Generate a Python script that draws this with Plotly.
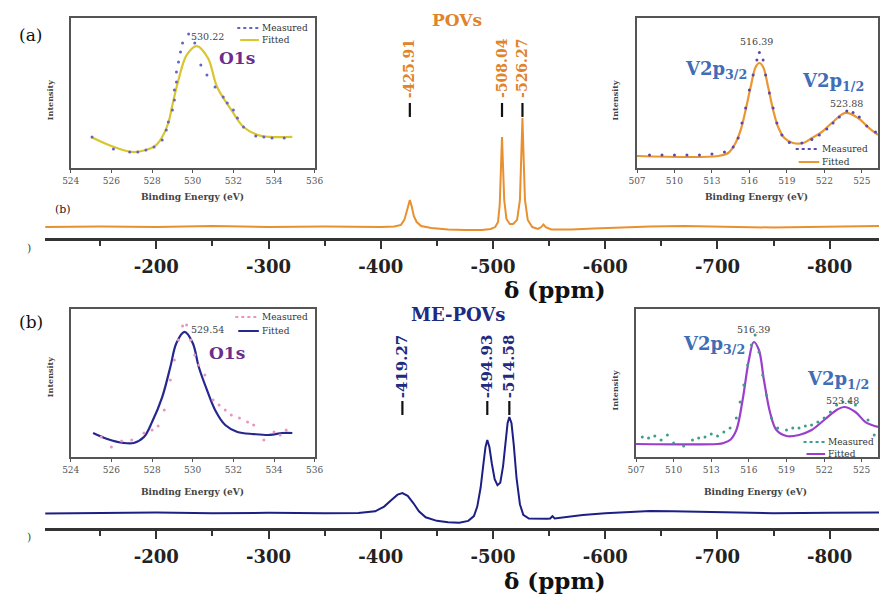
import plotly.graph_objects as go

W, H = 888, 597

# ---------------- data ----------------
ppm_ticks = [-200, -300, -400, -500, -600, -700, -800]
ppm_minor = [-150, -250, -350, -450, -550, -650, -750]

pov_peaks = [-425.91, -508.04, -526.27]
mepov_peaks = [-419.27, -494.93, -514.58]

pov_ppm = [-100, -150, -200, -250, -300, -350, -400, -412, -418, -421, -423, -424.5, -425.9,
           -427.5, -429.5, -432, -436, -445, -460, -475, -490, -498, -502, -504.5, -506,
           -507.2, -508.04, -508.9, -510, -512, -515, -518, -521.5, -524, -525.4, -526.27,
           -527.1, -528.5, -531, -535, -540, -543, -545, -547, -552, -570, -590, -610,
           -640, -670, -700, -750, -780, -800, -844]
pov_int = [4.6, 4.8, 4.6, 5.0, 4.6, 4.8, 4.6, 4.8, 5.5, 7.6, 10.9, 14.3, 16.0,
           13.4, 9.2, 6.7, 5.0, 4.2, 3.6, 3.4, 3.4, 3.8, 4.6, 6.7, 13.9,
           30.7, 42.4, 30.7, 16.0, 8.0, 5.9, 5.9, 7.6, 16.0, 37.0, 50.4,
           37.0, 16.0, 7.6, 4.6, 3.8, 4.6, 5.7, 4.6, 3.6, 3.6, 4.0, 4.4,
           4.8, 5.0, 4.8, 4.4, 4.6, 4.8, 5.0]

mepov_ppm = [-100, -150, -200, -250, -300, -350, -380, -395, -403, -410, -415, -419.27,
             -424, -429, -434, -440, -450, -460, -470, -478, -483, -486, -489, -491.5,
             -493.3, -494.93, -496.8, -499, -501.5, -504, -506.5, -509, -511, -513,
             -514.58, -516.5, -518.5, -521, -524, -527, -532, -540, -548, -551, -553,
             -555, -565, -580, -600, -620, -640, -660, -700, -750, -800, -844]
mepov_int = [6.1, 6.3, 6.5, 6.2, 6.4, 6.2, 6.3, 7.0, 9.0, 12.0, 14.0, 14.7,
             13.5, 10.5, 7.0, 4.5, 3.0, 2.4, 2.2, 3.0, 5.0, 9.0, 17.0, 27.0,
             34.0, 37.0, 34.0, 27.0, 20.5, 18.0, 19.0, 26.0, 36.0, 44.0,
             46.6, 44.0, 35.0, 21.0, 10.0, 5.5, 4.0, 3.8, 3.9, 4.0, 5.0,
             4.0, 4.6, 5.5, 6.2, 6.8, 7.1, 7.0, 6.6, 6.2, 6.4, 6.5]

# O1s inset, panel (a)
o1s_ticks = [524, 526, 528, 530, 532, 534, 536]
o1s_a_fit_ev = [525.0, 526.0, 527.0, 527.7, 528.2, 528.5, 528.8, 529.0, 529.3, 529.7, 530.2,
                530.75, 531.2, 531.9, 532.5, 533.2, 533.8, 534.9]
o1s_a_fit = [20.7, 14.7, 10.7, 12.0, 15.3, 20.7, 30.0, 42.0, 58.7, 75.3, 81.3,
             73.3, 54.0, 38.7, 27.3, 22.0, 20.7, 20.7]
o1s_a_meas_ev = [525.05, 526.1, 526.9, 527.3, 527.7, 528.1, 528.5, 528.7, 528.8, 529.0, 529.1,
                 529.1, 529.2, 529.2, 529.3, 529.4, 529.5, 529.8, 530.1, 530.4, 530.7, 531.1,
                 531.5, 531.7, 532.0, 532.2, 532.5, 533.1, 533.5, 533.9, 534.5]
o1s_a_meas = [20.7, 12.7, 10.7, 10.7, 12.0, 14.0, 18.7, 25.3, 30.7, 38.7, 45.3,
              52.0, 57.3, 64.0, 70.7, 77.3, 83.3, 89.3, 83.3, 68.7, 62.0, 54.0,
              47.3, 43.3, 38.7, 33.3, 27.3, 21.3, 20.7, 20.0, 20.0]
o1s_a_peak = 530.22

# V2p inset, panel (a)
v2p_ticks = [507, 510, 513, 516, 519, 522, 525]
v2p_a_fit_ev = [507.0, 513.5, 514.3, 514.8, 515.3, 515.7, 516.1, 516.5, 516.8, 517.1, 517.5,
                517.9, 518.3, 518.8, 519.5, 520.3, 521.0, 521.8, 522.6, 523.7, 524.7, 525.5, 526.3]
v2p_a_fit = [8.0, 8.0, 10.0, 15.3, 25.3, 38.7, 54.0, 67.3, 70.0, 67.3, 54.0,
             38.7, 27.3, 20.0, 16.7, 16.7, 20.0, 24.0, 30.0, 36.7, 33.3, 27.3, 22.0]
v2p_a_meas_ev = [508, 509, 510, 511, 512, 513, 514, 514.7, 515.1, 515.4, 515.7, 516.0, 516.3,
                 516.6, 516.8, 517.1, 517.3, 517.6, 517.9, 518.2, 518.6, 519.2, 520.2, 521.0,
                 521.6, 522.2, 522.7, 523.2, 523.8, 524.3, 524.8, 525.4, 526.1]
v2p_a_meas = [8.7, 8.7, 8.7, 8.7, 8.7, 9.3, 10.7, 14.0, 20.0, 30.0, 40.0, 52.0, 62.0,
              72.0, 77.0, 72.0, 62.0, 50.0, 40.0, 30.0, 22.0, 17.0, 16.7, 19.0,
              22.0, 26.0, 30.0, 34.0, 38.0, 37.0, 34.0, 28.0, 24.0]
v2p_a_peaks = [516.39, 523.88]

# O1s inset, panel (b)
o1s_b_fit_ev = [525.1, 525.8, 526.6, 527.1, 527.6, 528.0, 528.5, 528.9, 529.2, 529.6, 530.0,
                530.3, 530.7, 531.1, 531.6, 532.2, 533.0, 533.8, 534.4, 534.9]
o1s_b_fit = [16.2, 12.2, 9.5, 9.5, 13.5, 23.6, 40.5, 60.8, 77.0, 84.5, 77.0,
             60.8, 45.3, 31.8, 21.6, 16.9, 15.5, 14.9, 16.2, 16.2]
o1s_b_meas_ev = [525.5, 526.0, 526.5, 527.0, 527.6, 528.0, 528.3, 528.6, 528.9, 529.1, 529.3,
                 529.5, 529.7, 529.9, 530.1, 530.3, 530.6, 531.0, 531.3, 531.6, 531.9, 532.3,
                 532.7, 533.0, 533.5, 534.0, 534.3, 534.6]
o1s_b_meas = [13.5, 6.8, 10.8, 11.5, 16.2, 18.2, 20.9, 31.8, 52.0, 65.5, 79.0,
              88.5, 89.2, 79.0, 68.9, 62.2, 55.4, 38.5, 35.1, 31.8, 28.4, 26.4,
              23.6, 21.6, 11.5, 16.9, 14.9, 18.2]
o1s_b_peak = 529.54

# V2p inset, panel (b)
v2p_b_fit_ev = [507.0, 513.5, 514.0, 514.5, 515.0, 515.5, 516.0, 516.39, 516.8, 517.2, 517.7,
                518.2, 519.0, 520.0, 521.0, 522.0, 523.0, 523.6, 524.5, 525.3, 526.3]
v2p_b_fit = [8.8, 8.8, 9.5, 11.5, 18.2, 38.5, 65.5, 77.7, 72.3, 52.0, 29.7,
             18.2, 14.2, 14.9, 18.2, 25.0, 31.8, 33.8, 30.4, 23.6, 20.3]
v2p_b_meas_ev = [507.5, 508, 508.5, 509, 509.5, 510, 510.8, 511.5, 512, 512.5, 513, 513.5,
                 514, 514.5, 515, 515.3, 515.6, 515.9, 516.2, 516.5, 516.8, 517.1, 517.4,
                 517.8, 518.3, 519, 519.5, 520, 520.5, 521, 521.5, 522, 522.5, 523, 523.5,
                 524, 524.5, 525.5, 526]
v2p_b_meas = [13.5, 12.8, 14.2, 11.5, 14.9, 9.5, 7.4, 11.5, 12.8, 13.5, 15.5, 14.2,
              16.9, 19.6, 26.4, 37.2, 48.6, 62.2, 75.7, 82.4, 70.9, 55.4, 41.9,
              26.4, 19.6, 18.2, 19.6, 19.6, 20.9, 21.6, 23.6, 26.4, 30.4, 35.1, 37.2,
              37.2, 35.1, 25.0, 14.9]
v2p_b_peaks = [516.39, 523.48]

# ---------------- styling ----------------
ORANGE = "#E8902F"
ORANGE_T = "#E0832A"
NAVY = "#1E1F85"
NAVY_T = "#202A80"
SERIF = "DejaVu Serif"


def X(p):
    return p / W


def Y(p):
    return 1 - p / H


fig = go.Figure()

# main spectra
fig.add_trace(go.Scatter(x=pov_ppm, y=pov_int, mode="lines",
                         line=dict(color=ORANGE, width=2), xaxis="x", yaxis="y"))
fig.add_trace(go.Scatter(x=mepov_ppm, y=mepov_int, mode="lines",
                         line=dict(color=NAVY, width=2), xaxis="x2", yaxis="y2"))

# black peak markers
fig.add_trace(go.Scatter(x=pov_peaks, y=[53.8] * len(pov_peaks), mode="markers",
                         marker=dict(symbol="line-ns", size=10, line=dict(width=2.2, color="#111")),
                         xaxis="x", yaxis="y"))
fig.add_trace(go.Scatter(x=mepov_peaks, y=[50.4] * len(mepov_peaks), mode="markers",
                         marker=dict(symbol="line-ns", size=10, line=dict(width=2.2, color="#111")),
                         xaxis="x2", yaxis="y2"))

# insets
insets = [
    ("x3", "y3", o1s_a_meas_ev, o1s_a_meas, "#6464C8", o1s_a_fit_ev, o1s_a_fit, "#D9C62C"),
    ("x4", "y4", v2p_a_meas_ev, v2p_a_meas, "#5A48B0", v2p_a_fit_ev, v2p_a_fit, "#EA9631"),
    ("x5", "y5", o1s_b_meas_ev, o1s_b_meas, "#E996BE", o1s_b_fit_ev, o1s_b_fit, "#26288F"),
    ("x6", "y6", v2p_b_meas_ev, v2p_b_meas, "#3F9C86", v2p_b_fit_ev, v2p_b_fit, "#9A3FCB"),
]
for xa, ya, mx, my, mc, fx, fy, fc in insets:
    fig.add_trace(go.Scatter(x=fx, y=fy, mode="lines", line=dict(color=fc, width=2.2, shape="spline"),
                             xaxis=xa, yaxis=ya))
    fig.add_trace(go.Scatter(x=mx, y=my, mode="markers", marker=dict(color=mc, size=3),
                             xaxis=xa, yaxis=ya))

main_x = dict(range=[-101, -844], showline=True, linecolor="#333", linewidth=2.5,
              ticks="outside", ticklen=8, tickwidth=2, tickcolor="#333",
              tickmode="array", tickvals=ppm_ticks, ticktext=[str(t) for t in ppm_ticks],
              tickfont=dict(family=SERIF, size=18, color="#222", weight="bold"),
              minor=dict(tickmode="array", tickvals=ppm_minor, ticks="outside", ticklen=5,
                         tickwidth=2, tickcolor="#333"),
              showgrid=False, zeroline=False, domain=[X(37), 1], ticklabelstandoff=3)
main_y = dict(range=[0, 100], visible=False, showgrid=False, zeroline=False)


def inset_x(rng, ticks, dom, anchor):
    return dict(range=rng, domain=dom, anchor=anchor, showline=True, mirror=True,
                linecolor="#555", linewidth=1.5, ticks="outside", ticklen=3, tickwidth=1,
                tickcolor="#555", tickmode="array", tickvals=ticks,
                tickfont=dict(family=SERIF, size=9, color="#555"),
                showgrid=False, zeroline=False)


def inset_y(dom, anchor):
    return dict(range=[0, 100], domain=dom, anchor=anchor, showline=True, mirror=True,
                linecolor="#555", linewidth=1.5, showticklabels=False, ticks="",
                showgrid=False, zeroline=False)


fig.update_layout(
    width=W, height=H, margin=dict(l=0, r=0, t=0, b=0),
    paper_bgcolor="white", plot_bgcolor="rgba(0,0,0,0)", showlegend=False,
    xaxis=dict(main_x, anchor="y"),
    yaxis=dict(main_y, domain=[Y(238), 1], anchor="x"),
    xaxis2=dict(main_x, anchor="y2"),
    yaxis2=dict(main_y, domain=[Y(528), Y(290)], anchor="x2"),
    xaxis3=inset_x([524, 536], o1s_ticks, [X(63), X(312)], "y3"),
    yaxis3=inset_y([Y(168), Y(18)], "x3"),
    xaxis4=inset_x([507, 526.3], v2p_ticks, [X(641), X(887)], "y4"),
    yaxis4=inset_y([Y(168), Y(18)], "x4"),
    xaxis5=inset_x([524, 536], o1s_ticks, [X(63), X(312)], "y5"),
    yaxis5=inset_y([Y(457), Y(309)], "x5"),
    xaxis6=inset_x([507, 526.3], v2p_ticks, [X(640), X(887)], "y6"),
    yaxis6=inset_y([Y(457), Y(309)], "x6"),
)

ann = []


def text(x, y, s, size, color="#222", bold=False, angle=0, xanchor="center", family=SERIF):
    ann.append(dict(x=X(x), y=Y(y), xref="paper", yref="paper", text=s, showarrow=False,
                    textangle=angle, xanchor=xanchor, yanchor="middle",
                    font=dict(family=family, size=size, color=color,
                              weight="bold" if bold else "normal")))


# panel letters
text(22, 35, "(a)", 17, "#111")
text(22, 322, "(b)", 17, "#111")
text(55, 210, "(b)", 11, "#222")
text(20, 248, ")", 11, "#444")
text(20, 537, ")", 11, "#444")

# titles
text(457, 20, "POVs", 17, ORANGE_T, True)
text(458, 314, "ME-POVs", 18, NAVY_T, True)
text(557, 289, "δ (ppm)", 23, "#111", True)
text(557, 580, "δ (ppm)", 23, "#111", True)

# peak labels
for p in pov_peaks:
    ann.append(dict(x=p, y=58, xref="x", yref="y", text=f"{p:.2f}", showarrow=False,
                    textangle=-90, xanchor="center", yanchor="bottom",
                    font=dict(family=SERIF, size=14, color=ORANGE_T, weight="bold")))
for p in mepov_peaks:
    ann.append(dict(x=p, y=53.8, xref="x2", yref="y2", text=f"{p:.2f}", showarrow=False,
                    textangle=-90, xanchor="center", yanchor="bottom",
                    font=dict(family=SERIF, size=15, color=NAVY_T, weight="bold")))

# inset titles
for (bx, by, ix, iy) in [(187, 197, 42, 100), (763, 197, 619, 100),
                         (187, 492, 42, 377), (762, 492, 619, 390)]:
    text(bx, by, "Binding Energy (eV)", 9, "#444", True)
    text(ix, iy, "Intensity", 8, "#444", True, angle=-90)

# inset peak values
text(203, 37, f"{o1s_a_peak:.2f}", 9.5, "#444")
text(763, 42, f"{v2p_a_peaks[0]:.2f}", 9.5, "#444")
text(855, 104, f"{v2p_a_peaks[1]:.2f}", 9.5, "#444")
text(203, 330, f"{o1s_b_peak:.2f}", 9.5, "#444")
text(760, 329, f"{v2p_b_peaks[0]:.2f}", 9.5, "#444")
text(851, 400, f"{v2p_b_peaks[1]:.2f}", 9.5, "#444")

# element labels
PURPLE = "#6B2E8C"
VBLUE = "#3F6DB6"
text(233, 58, "O1s", 17, PURPLE, True)
text(222, 353, "O1s", 17, PURPLE, True)
text(722, 70, "V2p<sub>3/2</sub>", 18, VBLUE, True)
text(841, 82, "V2p<sub>1/2</sub>", 18, VBLUE, True)
text(720, 345, "V2p<sub>3/2</sub>", 18, VBLUE, True)
text(846, 380, "V2p<sub>1/2</sub>", 18, VBLUE, True)

# inset legends
shapes = []
legends = [
    (233, 255, 28, 40, "#6464C8", "#D9C62C"),
    (803, 827, 149, 162, "#5A48B0", "#EA9631"),
    (231, 255, 317, 331, "#E996BE", "#26288F"),
    (811, 833, 442, 454, "#3F9C86", "#9A3FCB"),
]
for x0, x1, ym, yf, mc, fc in legends:
    shapes.append(dict(type="line", xref="paper", yref="paper", x0=X(x0), x1=X(x1),
                       y0=Y(ym), y1=Y(ym), line=dict(color=mc, width=2, dash="dot")))
    shapes.append(dict(type="line", xref="paper", yref="paper", x0=X(x0 + 3), x1=X(x1),
                       y0=Y(yf), y1=Y(yf), line=dict(color=fc, width=2)))
    text(x1 + 1, ym, "Measured", 9, "#333", xanchor="left")
    text(x1 + 1, yf, "Fitted", 9, "#333", xanchor="left")

fig.update_layout(annotations=ann, shapes=shapes)
fig.write_html("out.html", config={"displayModeBar": False},
               post_script="document.body.style.margin='0';")
